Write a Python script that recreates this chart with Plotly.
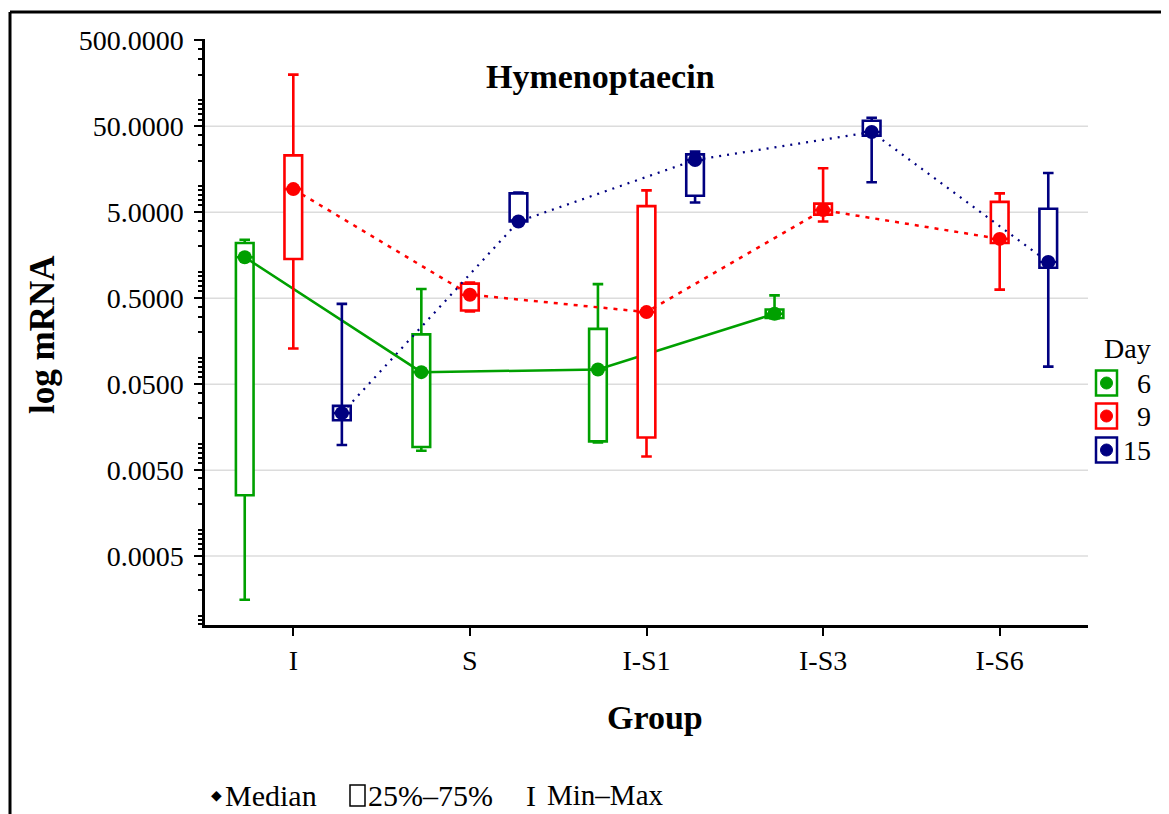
import math
import plotly.graph_objects as go

# ---------------- data ----------------
groups = ["I", "S", "I-S1", "I-S3", "I-S6"]
day_labels = ["6", "9", "15"]

# Day 6 (no I-S6 value)
min6 = [0.000155, 0.0084, 0.0105, 0.29, None]
q1_6 = [0.00255, 0.0093, 0.0108, 0.295, None]
med6 = [1.5, 0.069, 0.074, 0.33, None]
q3_6 = [2.2, 0.19, 0.22, 0.37, None]
max6 = [2.4, 0.64, 0.73, 0.54, None]

# Day 9
min9 = [0.13, 0.35, 0.0072, 3.9, 0.63]
q1_9 = [1.43, 0.36, 0.012, 4.7, 2.2]
med9 = [9.3, 0.55, 0.345, 5.3, 2.45]
q3_9 = [23.0, 0.74, 5.9, 6.3, 6.6]
max9 = [200.0, 0.76, 9.0, 16.3, 8.3]

# Day 15
min15 = [0.0098, 3.85, 6.5, 11.2, 0.08]
q1_15 = [0.019, 3.9, 7.8, 39.0, 1.13]
med15 = [0.023, 3.9, 20.3, 43.0, 1.32]
q3_15 = [0.028, 8.3, 23.6, 58.0, 5.5]
max15 = [0.43, 8.5, 25.4, 63.0, 14.3]

major_ticks = [0.0005, 0.005, 0.05, 0.5, 5, 50, 500]
grid_ticks = [0.0005, 0.005, 0.05, 0.5, 5, 50]

# ---------------- styling ----------------
colors = ["#00A000", "#FF0000", "#000080"]
dashes = ["solid", "4px,6px", "2px,6px"]
line_w = [2.5, 2.5, 2.2]
offsets = [-0.275, 0.0, 0.275]
FONT = "Liberation Serif"

series = [
    (min6, q1_6, med6, q3_6, max6),
    (min9, q1_9, med9, q3_9, max9),
    (min15, q1_15, med15, q3_15, max15),
]

ylo, yhi = math.log10(0.0000789), math.log10(519)
W, H = 1169, 814
OFF = 8  # page body margin in the screenshot
L, R, T, B = 197, 89, 31, 197
pw, ph = W - L - R, H - T - B


def px(x):
    return (x - OFF - L) / pw


def py(y):
    return (H - B - (y - OFF)) / ph


fig = go.Figure()

for k, (mn, q1, md, q3, mx) in enumerate(series):
    suf = "" if k == 0 else str(k + 1)
    idx = [i for i, v in enumerate(md) if v is not None]
    xs = [i + offsets[k] for i in idx]
    fig.add_trace(go.Scatter(
        x=xs, y=[md[i] for i in idx], mode="lines",
        line=dict(color=colors[k], width=line_w[k], dash=dashes[k]),
        xaxis="x" + suf, yaxis="y" + suf, showlegend=False, hoverinfo="skip"))
    fig.add_trace(go.Box(
        x=xs, q1=[q1[i] for i in idx], median=[md[i] for i in idx],
        q3=[q3[i] for i in idx], lowerfence=[mn[i] for i in idx],
        upperfence=[mx[i] for i in idx], orientation="v",
        width=0.1, whiskerwidth=0.6, boxpoints=False,
        line=dict(color=colors[k], width=2.6), fillcolor="white",
        xaxis="x" + suf, yaxis="y" + suf, showlegend=False))
    fig.add_trace(go.Scatter(
        x=xs, y=[md[i] for i in idx], mode="markers",
        marker=dict(color=colors[k], size=14, symbol="circle"),
        xaxis="x" + suf, yaxis="y" + suf, showlegend=False))

minor_vals = [m * 10 ** e for e in range(-5, 3) for m in range(1, 10)]

layout_axes = dict(
    xaxis=dict(range=[-0.5, 4.5], tickvals=list(range(len(groups))), ticktext=groups,
               showline=True, linecolor="black", linewidth=3, ticks="outside",
               ticklen=8, tickwidth=2, tickcolor="black", showgrid=False,
               zeroline=False, tickfont=dict(family=FONT, size=28, color="black")),
    yaxis=dict(type="log", range=[ylo, yhi], tickvals=major_ticks,
               ticktext=[f"{v:.4f}" for v in major_ticks],
               showline=True, linecolor="black", linewidth=2.5, ticks="outside",
               ticklen=8, tickwidth=2, tickcolor="black", showgrid=False,
               zeroline=False, ticklabelstandoff=5,
               minor=dict(tickvals=minor_vals, ticks="outside", ticklen=4,
                          tickwidth=1.5, tickcolor="black", showgrid=False),
               tickfont=dict(family=FONT, size=28, color="black")),
)
for k in (2, 3):
    layout_axes[f"xaxis{k}"] = dict(overlaying="x", range=[-0.5, 4.5], visible=False)
    layout_axes[f"yaxis{k}"] = dict(overlaying="y", type="log", range=[ylo, yhi], visible=False)

shapes = [
    # outer frame (top and left edges)
    dict(type="line", xref="paper", yref="paper", x0=px(10), x1=px(1180), y0=py(12), y1=py(12),
         line=dict(color="black", width=3)),
    dict(type="line", xref="paper", yref="paper", x0=px(10), x1=px(10), y0=py(12), y1=py(830),
         line=dict(color="black", width=3)),
    # bottom legend box glyph
    dict(type="rect", xref="paper", yref="paper", x0=px(350), x1=px(365), y0=py(785), y1=py(806),
         line=dict(color="black", width=1.5), fillcolor="white"),
]
# horizontal grid lines at the labelled levels (none at the top edge)
for g in grid_ticks:
    shapes.append(dict(type="line", xref="paper", yref="y", x0=0, x1=1, y0=g, y1=g,
                       layer="below", line=dict(color="#dcdcdc", width=1.5)))

annotations = [
    dict(text="<b>Hymenoptaecin</b>", x=px(600), y=py(77), xref="paper", yref="paper",
         showarrow=False, xanchor="center", yanchor="middle",
         font=dict(family=FONT, size=34, color="black")),
    dict(text="<b>log mRNA</b>", x=px(42), y=py(335), xref="paper", yref="paper",
         showarrow=False, xanchor="center", yanchor="middle", textangle=-90,
         font=dict(family=FONT, size=35, color="black")),
    dict(text="<b>Group</b>", x=px(655), y=py(717), xref="paper", yref="paper",
         showarrow=False, xanchor="center", yanchor="middle",
         font=dict(family=FONT, size=34, color="black")),
    dict(text="Day", x=px(1127), y=py(348), xref="paper", yref="paper",
         showarrow=False, xanchor="center", yanchor="middle",
         font=dict(family=FONT, size=28, color="black")),
    dict(text="◆", x=px(216), y=py(795), xref="paper", yref="paper",
         showarrow=False, xanchor="center", yanchor="middle",
         font=dict(family="DejaVu Sans", size=14, color="black")),
    dict(text="Median", x=px(223), y=py(795), xref="paper", yref="paper",
         showarrow=False, xanchor="left", yanchor="middle",
         font=dict(family=FONT, size=30, color="black")),
    dict(text="25%–75%", x=px(366), y=py(795), xref="paper", yref="paper",
         showarrow=False, xanchor="left", yanchor="middle",
         font=dict(family=FONT, size=30, color="black")),
    dict(text="I", x=px(531), y=py(795), xref="paper", yref="paper",
         showarrow=False, xanchor="center", yanchor="middle",
         font=dict(family=FONT, size=30, color="black")),
    dict(text="Min–Max", x=px(545), y=py(795), xref="paper", yref="paper",
         showarrow=False, xanchor="left", yanchor="middle",
         font=dict(family=FONT, size=29, color="black")),
]

legend_rows = [383, 416, 450]
for k, lab in enumerate(day_labels):
    cy = py(legend_rows[k])
    cx = px(1106.5)
    shapes.append(dict(type="rect", xref="paper", yref="paper", xsizemode="pixel", ysizemode="pixel",
                       xanchor=cx, yanchor=cy, x0=-10.5, x1=10.5, y0=-12.5, y1=12.5,
                       line=dict(color=colors[k], width=2.5), fillcolor="white"))
    shapes.append(dict(type="circle", xref="paper", yref="paper", xsizemode="pixel", ysizemode="pixel",
                       xanchor=cx, yanchor=cy, x0=-6, x1=6, y0=-6, y1=6,
                       line=dict(color=colors[k], width=1), fillcolor=colors[k]))
    annotations.append(dict(text=lab, x=px(1153), y=cy, xref="paper", yref="paper",
                            showarrow=False, xanchor="right", yanchor="middle",
                            font=dict(family=FONT, size=28, color="black")))

fig.update_layout(
    width=W, height=H, template="none",
    margin=dict(l=L, r=R, t=T, b=B, autoexpand=False),
    paper_bgcolor="white", plot_bgcolor="white",
    font=dict(family=FONT, color="black"),
    showlegend=False, shapes=shapes, annotations=annotations,
    **layout_axes,
)

fig.write_html("out.html")
